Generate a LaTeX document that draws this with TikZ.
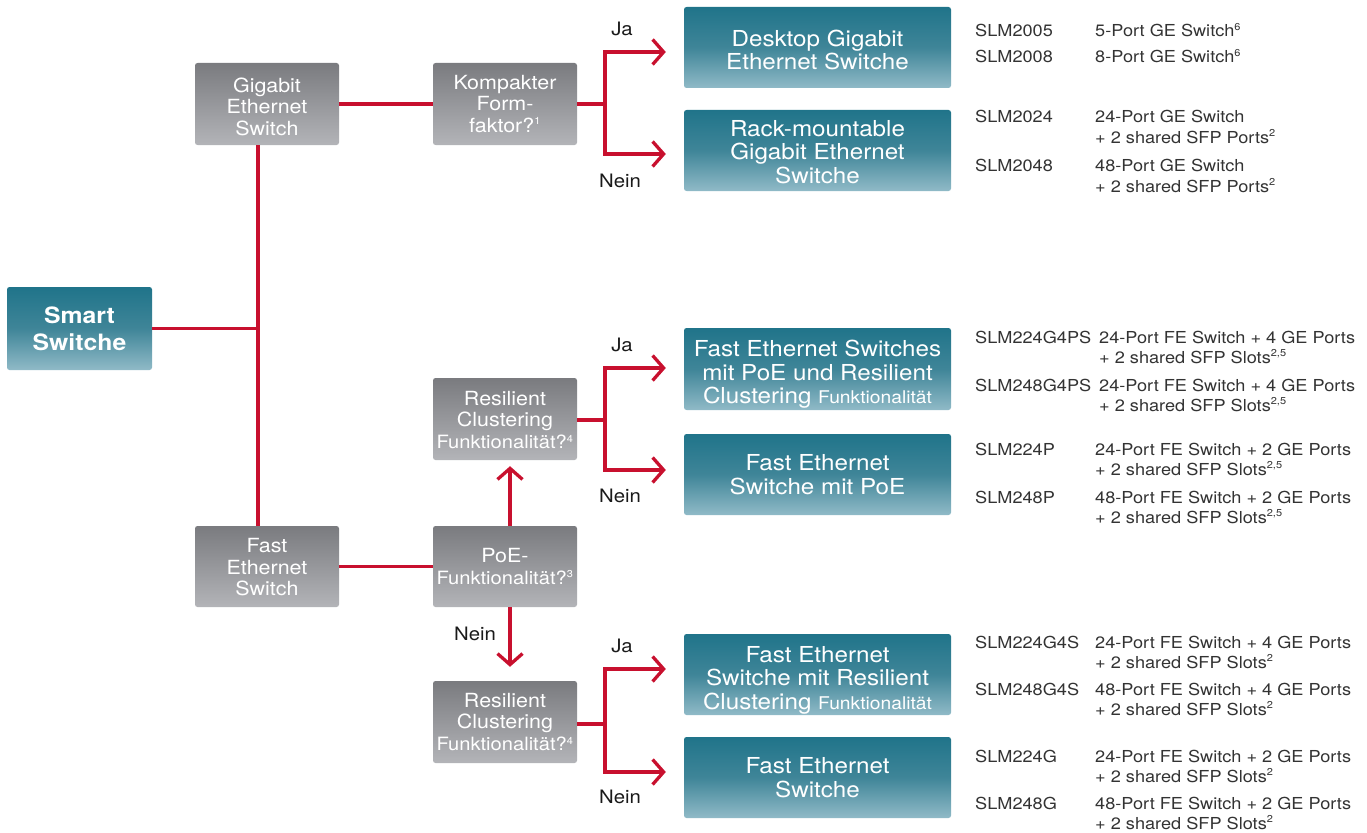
\documentclass[tikz,border=0pt]{standalone}
\usepackage{fontspec}
\setmainfont{TeX Gyre Heros}[FakeStretch=1.1]
\usetikzlibrary{arrows.meta,calc}
\definecolor{cred}{HTML}{C8102E}
\definecolor{gT}{HTML}{7A7B7F}
\definecolor{gB}{HTML}{B3B4B8}
\definecolor{tT}{HTML}{20748A}
\definecolor{tM}{HTML}{3F8598}
\definecolor{tB}{HTML}{90BAC7}
\definecolor{txt}{HTML}{333333}
\definecolor{lbl}{HTML}{1A1A1A}
\newcommand\smallfk{\fontsize{17.5}{20}\selectfont}
\newcommand\fn[1]{\textsuperscript{\fontsize{10}{10}\selectfont #1}}
\newcommand\fnl[1]{{\fontsize{18.3}{21.5}\selectfont #1}}
\newcommand\tup[1]{\rule{0pt}{#1}}
\begin{document}
\begin{tikzpicture}[x=1pt,y=-1pt,
  box/.style={rounded corners=2.5pt, minimum width=144pt, minimum height=82pt, inner sep=0pt, align=center, text=white},
  gbox/.style={box, top color=gT, bottom color=gB, font=\fontsize{19.5}{21.5}\selectfont},
  tbox/.style={box, minimum width=267pt, minimum height=81pt, top color=tT, bottom color=tB, middle color=tM, font=\fontsize{22}{23.5}\selectfont},
  link/.style={draw=cred, line width=3.3pt},
  arr/.style={link, -{Straight Barb[length=11pt,width=25pt]}},
  darr/.style={link, {Straight Barb[length=11pt,width=25pt]}-{Straight Barb[length=11pt,width=25pt]}, shorten <=18pt, shorten >=18pt},
  yn/.style={text=lbl, font=\fontsize{18.5}{20}\selectfont, inner sep=0pt},
  mt/.style={anchor=base west, inner sep=0pt, text=txt, font=\fontsize{16.5}{20}\selectfont}
]
\useasboundingbox (0,0) rectangle (1367,832);

% grey / root nodes
\node[box, minimum width=145pt, minimum height=83pt, top color=tT, bottom color=tB, middle color=tM, font=\fontsize{22.5}{27}\selectfont\bfseries] (smart) at (79.5,328.5) {Smart\\Switche};
\node[gbox] (gig) at (267,104) {\tup{20pt}Gigabit\\Ethernet\\Switch};
\node[gbox] (komp) at (505,104) {Kompakter\\Form-\\faktor?\fn{1}};
\node[gbox, minimum height=81pt] (fast) at (267,566.5) {\tup{16pt}Fast\\Ethernet\\Switch};
\node[gbox, minimum height=81pt] (poe) at (505,566.5) {PoE-\\\fnl{Funktionalität?\fn{3}}};
\node[gbox] (resA) at (505,419) {\tup{16pt}Resilient\\Clustering\\\fnl{Funktionalität?\fn{4}}};
\node[gbox] (resB) at (505,722) {Resilient\\Clustering\\\fnl{Funktionalität?\fn{4}}};

% teal result nodes
\node[tbox] (desk) at (817.5,47.5) {\tup{21.5pt}Desktop Gigabit\\Ethernet Switche};
\node[tbox] (rack) at (817.5,150.5) {\tup{19pt}Rack-mountable\\Gigabit Ethernet\\Switche};
\node[tbox, minimum height=82pt] (fepr) at (817.5,369) {\tup{27pt}Fast Ethernet Switches\\mit PoE und Resilient\\Clustering {\smallfk Funktionalität}};
\node[tbox] (fep) at (817.5,474.5) {Fast Ethernet\\Switche mit PoE};
\node[tbox] (fer) at (817.5,674.5) {\tup{27pt}Fast Ethernet\\Switche mit Resilient\\Clustering {\smallfk Funktionalität}};
\node[tbox] (fes) at (817.5,777.5) {Fast Ethernet\\Switche};

% coordinates
\coordinate (trunk) at (258,0);
\coordinate (s1a) at (605,52);
\coordinate (s1b) at (605,154);
\coordinate (s2a) at (605,368);
\coordinate (s2b) at (605,470);
\coordinate (s3a) at (605,669);
\coordinate (s3b) at (605,772);

% connectors
\draw[link] (smart.east) -- (smart.east -| trunk);
\draw[link] (gig.south -| trunk) -- (fast.north -| trunk);
\draw[link] (gig) -- (komp);
\draw[link] (fast) -- (poe);

\draw[link] (komp.east) -- (komp.east -| s1a);
\draw[darr] (s1a -| desk.west) -- (s1a) -- (s1b) -- (s1b -| rack.west);
\draw[link] ([yshift=-1]resA.east) -- ([yshift=-1]resA.east -| s2a);
\draw[darr] (s2a -| fepr.west) -- (s2a) -- (s2b) -- (s2b -| fep.west);
\draw[link] ([yshift=-2]resB.east) -- ([yshift=-2]resB.east -| s3a);
\draw[darr] (s3a -| fer.west) -- (s3a) -- (s3b) -- (s3b -| fes.west);

\draw[arr, shorten >=6pt] ([xshift=5]poe.north) -- ([xshift=5]resA.south);
\draw[arr, shorten >=14pt] ([xshift=5]poe.south) -- ([xshift=5]resB.north);

% Ja / Nein labels
\node[yn] (ja1) at (622,29) {Ja};
\node[yn] (nein1) at (620,181) {Nein};
\node[yn] (ja2) at (622,345) {Ja};
\node[yn] (nein2) at (620,496) {Nein};
\node[yn] (nein0) at (475,634) {Nein};
\node[yn] (ja3) at (622,646) {Ja};
\node[yn] (nein3) at (620,797) {Nein};

% model lists
\node[mt] (m1) at (975,37) {SLM2005};
\node[mt] (d1) at (1095,37) {5-Port GE Switch\fn{6}};
\node[mt] (m2) at (975,63) {SLM2008};
\node[mt] (d2) at (1095,63) {8-Port GE Switch\fn{6}};
\node[mt] (m3) at (975,123) {SLM2024};
\node[mt] (d3) at (1095,123) {24-Port GE Switch};
\node[mt] (e3) at (1095,143) {+ 2 shared SFP Ports\fn{2}};
\node[mt] (m4) at (975,171) {SLM2048};
\node[mt] (d4) at (1095,171) {48-Port GE Switch};
\node[mt] (e4) at (1095,192) {+ 2 shared SFP Ports\fn{2}};

\node[mt] (m5) at (975,343) {SLM224G4PS};
\node[mt] (d5) at (1099,343) {24-Port FE Switch + 4 GE Ports};
\node[mt] (e5) at (1099,363) {+ 2 shared SFP Slots\fn{2,5}};
\node[mt] (m6) at (975,391) {SLM248G4PS};
\node[mt] (d6) at (1099,391) {24-Port FE Switch + 4 GE Ports};
\node[mt] (e6) at (1099,411) {+ 2 shared SFP Slots\fn{2,5}};
\node[mt] (m7) at (975,455) {SLM224P};
\node[mt] (d7) at (1095,455) {24-Port FE Switch + 2 GE Ports};
\node[mt] (e7) at (1095,475) {+ 2 shared SFP Slots\fn{2,5}};
\node[mt] (m8) at (975,503) {SLM248P};
\node[mt] (d8) at (1095,503) {48-Port FE Switch + 2 GE Ports};
\node[mt] (e8) at (1095,523) {+ 2 shared SFP Slots\fn{2,5}};

\node[mt] (m9) at (975,648) {SLM224G4S};
\node[mt] (d9) at (1095,648) {24-Port FE Switch + 4 GE Ports};
\node[mt] (e9) at (1095,668) {+ 2 shared SFP Slots\fn{2}};
\node[mt] (m10) at (975,695) {SLM248G4S};
\node[mt] (d10) at (1095,695) {48-Port FE Switch + 4 GE Ports};
\node[mt] (e10) at (1095,715) {+ 2 shared SFP Slots\fn{2}};
\node[mt] (m11) at (975,762) {SLM224G};
\node[mt] (d11) at (1095,762) {24-Port FE Switch + 2 GE Ports};
\node[mt] (e11) at (1095,782) {+ 2 shared SFP Slots\fn{2}};
\node[mt] (m12) at (975,809) {SLM248G};
\node[mt] (d12) at (1095,809) {48-Port FE Switch + 2 GE Ports};
\node[mt] (e12) at (1095,829) {+ 2 shared SFP Slots\fn{2}};
\end{tikzpicture}
\end{document}
